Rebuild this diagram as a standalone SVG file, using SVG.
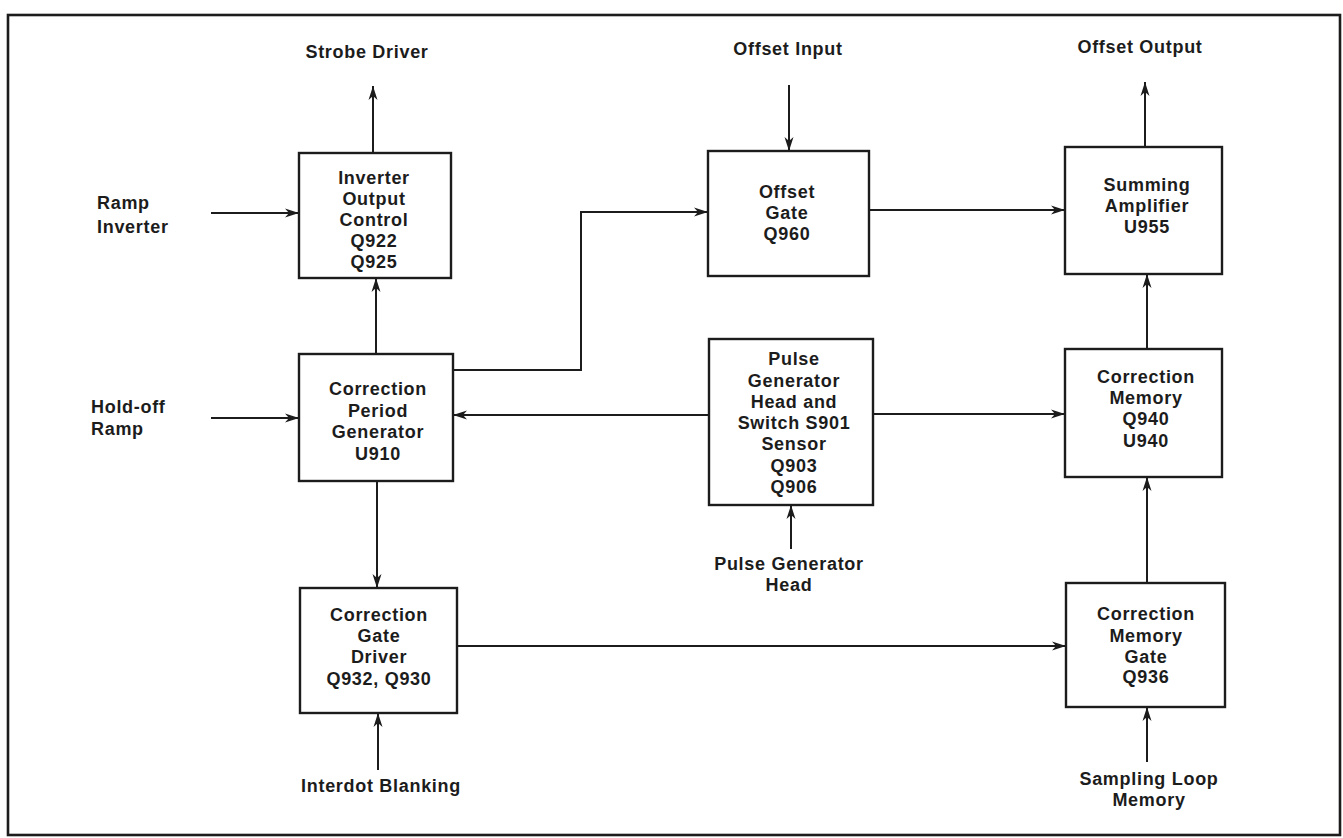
<svg xmlns="http://www.w3.org/2000/svg" width="1343" height="838" viewBox="0 0 1343 838">
<style>
text{font-family:"Liberation Sans",Arial,Helvetica,sans-serif;font-size:18px;font-weight:bold;fill:#1c1c1c;letter-spacing:0.7px}
.c{text-anchor:middle}
.box{fill:none;stroke:#1c1c1c;stroke-width:2.4}
.ln{fill:none;stroke:#1c1c1c;stroke-width:2}
.ar{marker-end:url(#ah)}
</style>
<defs>
<marker id="ah" viewBox="0 0 14 10" refX="14" refY="5" markerWidth="14" markerHeight="10" markerUnits="userSpaceOnUse" orient="auto">
<path d="M0,0.5 L14,5 L0,9.5 L4,5 Z" fill="#1c1c1c"/>
</marker>
</defs>
<rect width="1343" height="838" fill="#fff"/>
<rect x="8" y="15" width="1332" height="820" fill="none" stroke="#1c1c1c" stroke-width="2.6"/>

<g id="connectors">
<path class="ln ar" d="M373,153 V86"/>
<path class="ln ar" d="M211,213 H299"/>
<path class="ln ar" d="M376,354 V278"/>
<path class="ln ar" d="M211,418 H299"/>
<path class="ln ar" d="M453,370 H581 V212 H708"/>
<path class="ln ar" d="M789,85 V151"/>
<path class="ln ar" d="M869,210 H1065"/>
<path class="ln ar" d="M1145,147 V82"/>
<path class="ln ar" d="M1147,349 V274"/>
<path class="ln ar" d="M709,415 H453"/>
<path class="ln ar" d="M873,414 H1065"/>
<path class="ln ar" d="M791,549 V505"/>
<path class="ln ar" d="M377,481 V588"/>
<path class="ln ar" d="M378,770 V713"/>
<path class="ln ar" d="M457,646 H1066"/>
<path class="ln ar" d="M1147,583 V477"/>
<path class="ln ar" d="M1147,762 V707"/>
</g>

<g id="labels">
<text class="c" x="367" y="58">Strobe Driver</text>
<text class="c" x="788" y="55">Offset Input</text>
<text class="c" x="1140" y="53">Offset Output</text>
<text x="97" y="209">Ramp</text>
<text x="97" y="233">Inverter</text>
<text x="91" y="413">Hold-off</text>
<text x="91" y="435">Ramp</text>
<text class="c" x="789" y="570">Pulse Generator</text>
<text class="c" x="789" y="591">Head</text>
<text class="c" x="381" y="792">Interdot Blanking</text>
<text class="c" x="1149" y="785">Sampling Loop</text>
<text class="c" x="1149" y="806">Memory</text>
</g>

<g id="inverter-output-control">
<rect class="box" x="299" y="153" width="152" height="125"/>
<text class="c" x="374" y="184">Inverter</text>
<text class="c" x="374" y="205">Output</text>
<text class="c" x="374" y="226">Control</text>
<text class="c" x="374" y="247">Q922</text>
<text class="c" x="374" y="268">Q925</text>
</g>

<g id="correction-period-generator">
<rect class="box" x="299" y="354" width="154" height="127"/>
<text class="c" x="378" y="395">Correction</text>
<text class="c" x="378" y="417">Period</text>
<text class="c" x="378" y="438">Generator</text>
<text class="c" x="378" y="460">U910</text>
</g>

<g id="correction-gate-driver">
<rect class="box" x="300" y="588" width="157" height="125"/>
<text class="c" x="379" y="621">Correction</text>
<text class="c" x="379" y="642">Gate</text>
<text class="c" x="379" y="663">Driver</text>
<text class="c" x="379" y="685">Q932, Q930</text>
</g>

<g id="offset-gate">
<rect class="box" x="708" y="151" width="161" height="125"/>
<text class="c" x="787" y="198">Offset</text>
<text class="c" x="787" y="219">Gate</text>
<text class="c" x="787" y="240">Q960</text>
</g>

<g id="pulse-generator-head-sensor">
<rect class="box" x="709" y="339" width="164" height="166"/>
<text class="c" x="794" y="365">Pulse</text>
<text class="c" x="794" y="387">Generator</text>
<text class="c" x="794" y="408">Head and</text>
<text class="c" x="794" y="429">Switch S901</text>
<text class="c" x="794" y="450">Sensor</text>
<text class="c" x="794" y="472">Q903</text>
<text class="c" x="794" y="493">Q906</text>
</g>

<g id="summing-amplifier">
<rect class="box" x="1065" y="147" width="157" height="127"/>
<text class="c" x="1147" y="191">Summing</text>
<text class="c" x="1147" y="212">Amplifier</text>
<text class="c" x="1147" y="233">U955</text>
</g>

<g id="correction-memory">
<rect class="box" x="1065" y="349" width="157" height="128"/>
<text class="c" x="1146" y="383">Correction</text>
<text class="c" x="1146" y="404">Memory</text>
<text class="c" x="1146" y="425">Q940</text>
<text class="c" x="1146" y="447">U940</text>
</g>

<g id="correction-memory-gate">
<rect class="box" x="1066" y="583" width="159" height="124"/>
<text class="c" x="1146" y="620">Correction</text>
<text class="c" x="1146" y="642">Memory</text>
<text class="c" x="1146" y="663">Gate</text>
<text class="c" x="1146" y="683">Q936</text>
</g>
</svg>
